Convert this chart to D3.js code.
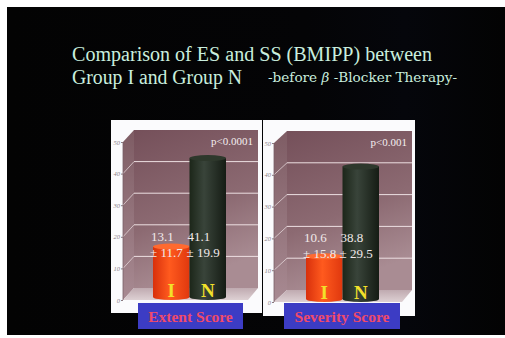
<!DOCTYPE html>
<html>
<head>
<meta charset="utf-8">
<script src="https://cdn.jsdelivr.net/npm/d3@7"></script>
<style>
  html, body { margin: 0; padding: 0; background: #ffffff; }
  svg { display: block; }
</style>
</head>
<body>
<div id="chart"></div>
<script>
// data
const groups = ['I', 'N'];
const yTicks = [0, 10, 20, 30, 40, 50];
const esMean = [13.1, 41.1];
const esSD = [11.7, 19.9];
const ssMean = [10.6, 38.8];
const ssSD = [15.8, 29.5];
const panelTitles = ['Extent Score', 'Severity Score'];
const pValues = ['p<0.0001', 'p<0.001'];

const width = 505, height = 338;

const svg = d3.select('#chart').append('svg')
  .attr('width', width)
  .attr('height', height);

const defs = svg.append('defs');

function linGrad(id, stops, x1, y1, x2, y2) {
  const g = defs.append('linearGradient').attr('id', id)
    .attr('x1', x1).attr('y1', y1).attr('x2', x2).attr('y2', y2);
  stops.forEach(s => g.append('stop').attr('offset', s[0]).attr('stop-color', s[1]));
}
linGrad('wall', [[0, '#75505a'], [0.6, '#8c6a72'], [1, '#a98c93']], 0, 0, 0.3, 1);
linGrad('side', [[0, '#7e5c64'], [1, '#a88a92']], 0, 0, 0, 1);
linGrad('floor', [[0, '#bfaab0'], [1, '#ddd0d3']], 0, 0, 0, 1);
linGrad('orange', [[0, '#d8300c'], [0.45, '#ff5a1e'], [1, '#e0380e']], 0, 0, 1, 0);
linGrad('green', [[0, '#1c2619'], [0.4, '#39443a'], [1, '#151c14']], 0, 0, 1, 0);
linGrad('bg', [[0, '#030303'], [0.6, '#040406'], [0.8, '#05060b'], [1, '#030303']], 0, 0, 1, 0);

// slide background (white scan border top/left/bottom)
svg.append('rect').attr('width', width).attr('height', height).attr('fill', '#ffffff');
svg.append('rect').attr('x', 7).attr('y', 7).attr('width', 498).attr('height', 328)
  .attr('fill', 'url(#bg)');

// title
const titleColor = '#c9eede';
const title = svg.append('g').attr('font-family', '"Liberation Serif", "Times New Roman", serif')
  .attr('fill', titleColor);
title.append('text').attr('x', 72).attr('y', 61).attr('font-size', 20)
  .attr('textLength', 360).attr('lengthAdjust', 'spacingAndGlyphs')
  .text('Comparison of ES and SS (BMIPP) between');
title.append('text').attr('x', 72).attr('y', 84).attr('font-size', 20)
  .attr('textLength', 170).attr('lengthAdjust', 'spacingAndGlyphs')
  .text('Group I and Group N');
const sub = title.append('text').attr('x', 268).attr('y', 82)
  .attr('font-family', '"DejaVu Serif", serif').attr('font-size', 12)
  .attr('textLength', 189).attr('lengthAdjust', 'spacingAndGlyphs');
sub.append('tspan').text('-before ');
sub.append('tspan').attr('font-style', 'italic').text('β');
sub.append('tspan').text(' -Blocker Therapy-');

const panels = [
  { means: esMean, sds: esSD, label: panelTitles[0], p: pValues[0],
    box: [111, 120, 151, 193], axisX: 123, bottom: 300, top: 142, dx: 11, dy: -12,
    backRight: 258, floorRight: 248, tag: [138, 303, 105, 26] },
  { means: ssMean, sds: ssSD, label: panelTitles[1], p: pValues[1],
    box: [263, 120, 152, 196], axisX: 274, bottom: 302, top: 143, dx: 13, dy: -12,
    backRight: 412, floorRight: 402, tag: [284, 303, 116, 26] }
];

panels.forEach(drawPanel);

function drawPanel(cfg) {
  const g = svg.append('g');
  const [bx, by, bw, bh] = cfg.box;
  g.append('rect').attr('x', bx).attr('y', by).attr('width', bw).attr('height', bh)
    .attr('fill', '#fbfbfd');

  const yFront = d3.scaleLinear().domain([0, 50]).range([cfg.bottom, cfg.top]);
  const yBack = v => yFront(v) + cfg.dy;
  const backLeft = cfg.axisX + cfg.dx;

  // back wall
  g.append('rect').attr('x', backLeft).attr('y', yBack(50))
    .attr('width', cfg.backRight - backLeft).attr('height', yBack(0) - yBack(50))
    .attr('fill', 'url(#wall)');
  // left side wall
  g.append('path').attr('fill', 'url(#side)')
    .attr('d', `M${cfg.axisX},${yFront(0)}L${cfg.axisX},${yFront(50)}L${backLeft},${yBack(50)}L${backLeft},${yBack(0)}Z`);
  // floor
  g.append('path').attr('fill', 'url(#floor)')
    .attr('d', `M${cfg.axisX},${yFront(0)}L${backLeft},${yBack(0)}L${cfg.backRight},${yBack(0)}L${cfg.floorRight},${yFront(0)}Z`);

  // grid lines on back wall and side wall
  const grid = g.append('g').attr('stroke', '#eddfe2').attr('stroke-width', 1).attr('fill', 'none');
  yTicks.filter(t => t > 0 && t < 50).forEach(t => {
    grid.append('line').attr('x1', backLeft).attr('x2', cfg.backRight)
      .attr('y1', yBack(t)).attr('y2', yBack(t));
    grid.append('line').attr('x1', cfg.axisX).attr('x2', backLeft)
      .attr('y1', yFront(t)).attr('y2', yBack(t)).attr('stroke-opacity', 0.7);
  });
  g.append('line').attr('x1', cfg.axisX).attr('x2', cfg.axisX)
    .attr('y1', yFront(0)).attr('y2', yFront(50))
    .attr('stroke', '#7a6068').attr('stroke-width', 0.8);

  // tiny axis labels
  const axis = d3.axisLeft(yFront).tickValues(yTicks).tickSize(2).tickPadding(1);
  const ax = g.append('g').attr('transform', `translate(${cfg.axisX},0)`).call(axis);
  ax.select('.domain').remove();
  ax.selectAll('line').attr('stroke', '#8a7a80');
  ax.selectAll('text').attr('font-size', 6.5).attr('font-style', 'italic')
    .attr('font-family', '"Liberation Serif", serif').attr('fill', '#8a8088');

  // cylinders
  const x = d3.scaleBand().domain(groups).range([backLeft + 19, backLeft + 92]).padding(0);
  const barBottom = cfg.bottom - 3;
  const ry = 3;
  groups.forEach((k, i) => {
    const x0 = x(k), w = x.bandwidth(), cx = x0 + w / 2;
    const top = yBack(cfg.means[i]);
    const fill = i === 0 ? 'url(#orange)' : 'url(#green)';
    const capFill = i === 0 ? '#ff6a30' : '#2e382c';
    g.append('ellipse').attr('cx', cx).attr('cy', barBottom).attr('rx', w / 2).attr('ry', ry)
      .attr('fill', fill);
    g.append('rect').attr('x', x0).attr('y', top).attr('width', w).attr('height', barBottom - top)
      .attr('fill', fill);
    g.append('ellipse').attr('cx', cx).attr('cy', top).attr('rx', w / 2).attr('ry', ry)
      .attr('fill', capFill);

    // mean and sd
    const vt = g.append('g').attr('font-family', '"Liberation Serif", serif')
      .attr('font-size', 13).attr('fill', '#f1e9ea');
    vt.append('text').attr('x', x0 - 2).attr('y', yBack(15)).text(cfg.means[i].toFixed(1));
    vt.append('text').attr('x', x0 - 3).attr('y', yBack(15) + 16).text('± ' + cfg.sds[i].toFixed(1));

    // group letter
    g.append('text').attr('x', cx).attr('y', cfg.bottom - 3).attr('text-anchor', 'middle')
      .attr('font-family', '"Liberation Serif", serif').attr('font-weight', 'bold')
      .attr('font-size', 19).attr('fill', '#f2e02a').text(k);
  });

  // p value
  g.append('text').attr('x', cfg.backRight - 5).attr('y', yBack(50) + 15).attr('text-anchor', 'end')
    .attr('font-family', '"Liberation Serif", serif').attr('font-size', 11).attr('fill', '#f4eef0')
    .text(cfg.p);

  // score label
  const [tx, ty, tw, th] = cfg.tag;
  g.append('rect').attr('x', tx).attr('y', ty).attr('width', tw).attr('height', th)
    .attr('fill', '#3c3cc4');
  g.append('text').attr('x', tx + tw / 2).attr('y', ty + 19).attr('text-anchor', 'middle')
    .attr('font-family', '"Liberation Serif", serif').attr('font-weight', 'bold')
    .attr('font-size', 15.5).attr('fill', '#f04a6a').text(cfg.label);
}
</script>
</body>
</html>
